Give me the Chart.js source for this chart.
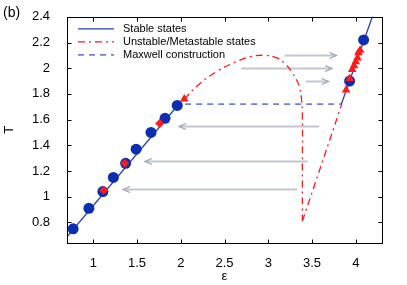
<!DOCTYPE html>
<html>
<head>
<meta charset="utf-8">
<script src="https://cdn.jsdelivr.net/npm/chart.js@4.4.1/dist/chart.umd.min.js"></script>
<style>
  html, body { margin: 0; padding: 0; background: #fff; }
</style>
</head>
<body>
<canvas id="chart" width="407" height="285"></canvas>
<script>
(function() {
    'use strict';

    // Axis ticks
    const xTicks = [1, 1.5, 2, 2.5, 3, 3.5, 4];
    const yTicks = [0.8, 1, 1.2, 1.4, 1.6, 1.8, 2, 2.2, 2.4];

    // Simulated states (markers)
    const stableX = [0.77, 0.95, 1.11, 1.23, 1.37, 1.49, 1.66, 1.82, 1.96, 3.93, 4.09];
    const stableY = [0.75, 0.91, 1.04, 1.15, 1.26, 1.37, 1.50, 1.61, 1.71, 1.90, 2.22];
    const diamondX = [1.12, 1.36, 1.76];
    const diamondY = [1.05, 1.26, 1.57];
    const triX = [2.04, 3.89, 3.93, 3.96, 3.98, 4.00, 4.02, 4.03, 4.05];
    const triY = [1.76, 1.83, 1.92, 1.99, 2.02, 2.05, 2.08, 2.12, 2.14];

    // Stable branches (solid)
    const stableLeftX = [0.70, 1.96];
    const stableLeftY = [0.688, 1.706];
    const stableRightX = [3.835, 4.20];
    const stableRightY = [1.72, 2.42];

    // Unstable / metastable branch (dash-dot)
    const unstableX = [2.04, 2.2, 2.4, 2.6, 2.8, 2.95, 3.1, 3.2, 3.28, 3.33, 3.36, 3.38, 3.39, 3.39, 3.39];
    const unstableY = [1.76, 1.87, 1.97, 2.04, 2.09, 2.10, 2.08, 2.03, 1.96, 1.90, 1.85, 1.76, 1.65, 1.20, 0.81];
    const riseX = [3.39, 3.84];
    const riseY = [0.81, 1.72];

    // Maxwell construction
    const maxwellX = [2.05, 3.84];
    const maxwellY = [1.72, 1.72];

    // Grey arrows
    const arrowFromX = [3.19, 2.69, 3.43, 3.58, 3.45, 3.33];
    const arrowToX = [3.78, 3.73, 3.69, 1.98, 1.59, 1.34];
    const arrowY = [2.10, 2.00, 1.90, 1.55, 1.28, 1.06];

    const legendLabels = ['Stable states', 'Unstable/Metastable states', 'Maxwell construction'];

    const BLUE_LINE = '#2443c4';
    const BLUE_DOT = '#0b2fb0';
    const RED = '#ff1a1a';
    const MAXWELL = '#6a84de';
    const DASHDOT = [7, 4, 2, 4];
    const DASHED = [6, 5];
    const FONT = '"Liberation Sans", Arial, sans-serif';

    const pts = (xs, ys) => xs.map((x, i) => ({ x: x, y: ys[i] }));

    function lineSet(xs, ys, color, dash, tension, width) {
        return {
            data: pts(xs, ys),
            showLine: true,
            borderColor: color,
            borderWidth: width || 1.3,
            borderDash: dash || [],
            tension: tension || 0,
            pointRadius: 0
        };
    }

    const arrowsPlugin = {
        id: 'arrows',
        beforeDatasetsDraw(chart) {
            const { ctx, scales: { x, y } } = chart;
            ctx.save();
            arrowY.forEach((v, i) => {
                const py = Math.round(y.getPixelForValue(v)) + 0.5;
                const x1 = x.getPixelForValue(arrowFromX[i]);
                const x2 = x.getPixelForValue(arrowToX[i]);
                const dir = x2 > x1 ? 1 : -1;
                ctx.strokeStyle = '#c0c7d2';
                ctx.lineWidth = 2;
                ctx.beginPath();
                ctx.moveTo(x1, py);
                ctx.lineTo(x2 - dir * 2, py);
                ctx.stroke();
                ctx.strokeStyle = '#939cad';
                ctx.lineWidth = 1.1;
                ctx.beginPath();
                ctx.moveTo(x2 - dir * 7, py - 3);
                ctx.lineTo(x2, py);
                ctx.lineTo(x2 - dir * 7, py + 3);
                ctx.stroke();
            });
            ctx.restore();
        }
    };

    const framePlugin = {
        id: 'frame',
        afterDatasetsDraw(chart) {
            const { ctx, chartArea: a, scales: { x, y } } = chart;
            const l = Math.round(a.left) + 0.5, r = Math.round(a.right) + 0.5;
            const t = Math.round(a.top) + 0.5, b = Math.round(a.bottom) + 0.5;
            ctx.save();
            ctx.strokeStyle = '#000';
            ctx.lineWidth = 1;
            ctx.strokeRect(l, t, r - l, b - t);
            ctx.beginPath();
            xTicks.forEach(v => {
                const px = Math.round(x.getPixelForValue(v)) + 0.5;
                ctx.moveTo(px, b); ctx.lineTo(px, b - 4);
                ctx.moveTo(px, t); ctx.lineTo(px, t + 4);
            });
            yTicks.forEach(v => {
                const py = Math.round(y.getPixelForValue(v)) + 0.5;
                ctx.moveTo(l, py); ctx.lineTo(l + 4, py);
                ctx.moveTo(r, py); ctx.lineTo(r - 4, py);
            });
            ctx.stroke();

            // legend inside the plot
            const styles = [
                { color: BLUE_LINE, dash: [], w: 1.3 },
                { color: RED, dash: DASHDOT, w: 1.3 },
                { color: MAXWELL, dash: DASHED, w: 1.8 }
            ];
            ctx.font = '11px ' + FONT;
            ctx.textBaseline = 'middle';
            legendLabels.forEach((label, i) => {
                const ly = a.top + 12 + i * 13;
                ctx.strokeStyle = styles[i].color;
                ctx.setLineDash(styles[i].dash);
                ctx.lineWidth = styles[i].w;
                ctx.beginPath();
                ctx.moveTo(a.left + 11, ly);
                ctx.lineTo(a.left + 47, ly);
                ctx.stroke();
                ctx.setLineDash([]);
                ctx.fillStyle = '#000';
                ctx.fillText(label, a.left + 56, ly);
            });

            // panel tag
            ctx.font = '14px ' + FONT;
            ctx.textBaseline = 'middle';
            ctx.fillText('(b)', 3, 13);
            ctx.restore();
        }
    };

    new Chart(document.getElementById('chart'), {
        type: 'scatter',
        data: {
            datasets: [
                {
                    data: pts(diamondX, diamondY),
                    pointStyle: 'rectRot',
                    pointRadius: 4.5,
                    backgroundColor: RED,
                    borderColor: RED,
                    borderWidth: 0
                },
                {
                    data: pts(triX, triY),
                    pointStyle: 'triangle',
                    pointRadius: 5,
                    backgroundColor: RED,
                    borderColor: RED,
                    borderWidth: 0
                },
                {
                    data: pts(stableX, stableY),
                    pointStyle: 'circle',
                    pointRadius: 5.5,
                    backgroundColor: BLUE_DOT,
                    borderColor: BLUE_DOT,
                    borderWidth: 0
                },
                lineSet(stableLeftX, stableLeftY, BLUE_LINE),
                lineSet(stableRightX, stableRightY, BLUE_LINE),
                lineSet(unstableX, unstableY, RED, DASHDOT, 0.4),
                lineSet(riseX, riseY, RED, DASHDOT),
                lineSet(maxwellX, maxwellY, MAXWELL, DASHED, 0, 1.8)
            ]
        },
        options: {
            responsive: false,
            animation: false,
            layout: { padding: { left: 0, right: 25, top: 16, bottom: 0 } },
            plugins: {
                legend: { display: false },
                tooltip: { enabled: false }
            },
            scales: {
                x: {
                    type: 'linear',
                    min: 0.7,
                    max: 4.3,
                    afterBuildTicks: s => { s.ticks = xTicks.map(v => ({ value: v })); },
                    afterFit: s => { s.height = 42; },
                    grid: { display: false },
                    border: { display: false },
                    ticks: {
                        padding: 5,
                        color: '#000',
                        font: { family: FONT, size: 13 },
                        callback: v => String(v)
                    },
                    title: {
                        display: true,
                        text: 'ε',
                        color: '#000',
                        font: { family: FONT, size: 13 },
                        padding: { top: 0, bottom: 1 }
                    }
                },
                y: {
                    type: 'linear',
                    min: 0.64,
                    max: 2.4,
                    afterBuildTicks: s => { s.ticks = yTicks.map(v => ({ value: v })); },
                    afterFit: s => { s.width = 67; },
                    grid: { display: false },
                    border: { display: false },
                    ticks: {
                        padding: 9,
                        color: '#000',
                        font: { family: FONT, size: 13 },
                        callback: v => String(v)
                    },
                    title: {
                        display: true,
                        text: 'T',
                        color: '#000',
                        font: { family: FONT, size: 13 },
                        padding: { top: 2, bottom: 0 }
                    }
                }
            }
        },
        plugins: [arrowsPlugin, framePlugin]
    });
})();
</script>
</body>
</html>
